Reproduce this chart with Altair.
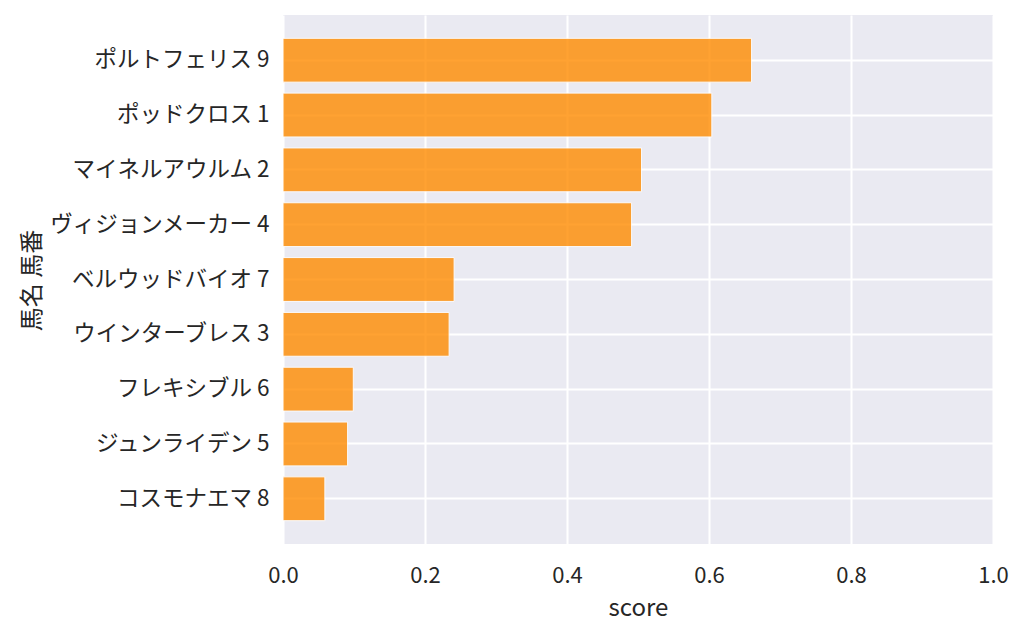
import altair as alt
import pandas as pd

names = ["ポルトフェリス 9", "ポッドクロス 1", "マイネルアウルム 2", "ヴィジョンメーカー 4",
         "ベルウッドバイオ 7", "ウインターブレス 3", "フレキシブル 6", "ジュンライデン 5", "コスモナエマ 8"]
scores = [0.660, 0.604, 0.505, 0.491, 0.241, 0.234, 0.099, 0.091, 0.059]
x_ticks = [0.0, 0.2, 0.4, 0.6, 0.8, 1.0]

df = pd.DataFrame({"name": names, "score": scores})

FONT = "Noto Sans CJK JP"
TXT = "#262626"

chart = alt.Chart(df).mark_bar(
    color="#ff8c00", opacity=0.8, stroke="#ffffff", strokeWidth=1
).encode(
    x=alt.X("score:Q",
            scale=alt.Scale(domain=[0, 1], nice=False, zero=True),
            axis=alt.Axis(values=x_ticks, format=".1f", title="score",
                          ticks=False, domain=False, labelPadding=21, labelFlush=False,
                          labelFontSize=22, titleFontSize=24, titleFontWeight="normal",
                          titleX=355, titleY=71, titleBaseline="alphabetic",
                          grid=True, gridColor="#ffffff", gridWidth=2)),
    y=alt.Y("name:N", sort=names,
            scale=alt.Scale(paddingInner=0.2, paddingOuter=0.425),
            axis=alt.Axis(title="馬名 馬番", ticks=False, domain=False, labelPadding=14,
                          labelFontSize=22.5, labelLimit=400,
                          titleFontSize=24, titleFontWeight="normal",
                          titleAngle=270, titleX=-251, titleY=265,
                          titleAlign="center", titleBaseline="middle",
                          bandPosition=0.5,
                          grid=True, gridColor="#ffffff", gridWidth=2)),
).properties(
    width=710, height=529,
    autosize=alt.AutoSizeParams(type="none"),
    padding={"left": 275, "top": 7, "right": 20, "bottom": 80},
).configure_view(
    fill="#eaeaf2", stroke=None
).configure_axis(
    labelFont=FONT, titleFont=FONT, labelColor=TXT, titleColor=TXT
)

chart.save("out.html", embed_options={"renderer": "svg", "actions": False})
